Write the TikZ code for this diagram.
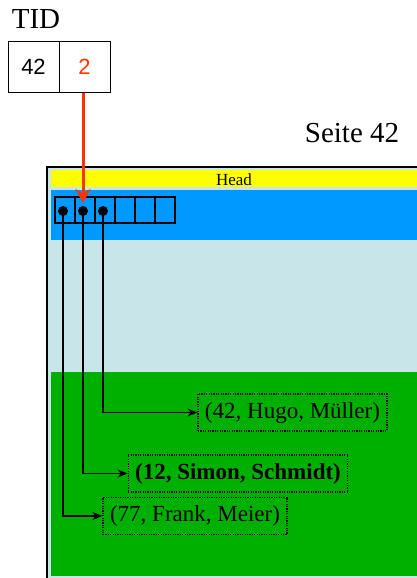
\documentclass[tikz,border=0pt]{standalone}
\usepackage{fontspec}
\setmainfont{Liberation Serif}
\newfontfamily\numfont{Liberation Sans}
\usetikzlibrary{arrows.meta}
\definecolor{pgLight}{RGB}{200,230,234}
\definecolor{pgBlue}{RGB}{0,153,255}
\definecolor{pgGreen}{RGB}{0,176,0}
\definecolor{pgYellow}{RGB}{255,255,0}
\definecolor{pgRed}{RGB}{255,51,0}
\tikzset{
  tidcell/.style={draw=black, line width=1pt, minimum width=51pt, minimum height=50pt, inner sep=0pt, font=\numfont\fontsize{22}{24}\selectfont},
  slotcell/.style={draw=black, line width=1.2pt, minimum width=20pt, minimum height=26pt, inner sep=0pt},
  slotdot/.style={circle, fill=black, minimum size=10pt, inner sep=0pt},
  tuplebox/.style={draw=black, dash pattern=on 1.2pt off 1.2pt, line width=1.2pt, minimum height=37pt, inner xsep=7pt, inner ysep=0pt, font=\fontsize{23}{25}\selectfont},
  ptr/.style={draw=black, line width=1.4pt, -{Stealth[length=10pt,width=8pt]}},
  bigtext/.style={font=\fontsize{29}{31}\selectfont, inner sep=0pt}
}
\begin{document}
\begin{tikzpicture}[x=1pt,y=-1pt]
\useasboundingbox (0,0) rectangle (417,578);
\begin{scope}
\clip (0,0) rectangle (417,578);
% page
\fill[pgLight] (47,167) rectangle (430,600);
\draw[black, line width=1.5pt] (47,600) -- (47,167) -- (430,167);
\fill[pgYellow] (51,170) rectangle (430,187);
\fill[pgBlue] (51,190) rectangle (430,240);
\fill[pgGreen] (51,372) rectangle (430,576);
\end{scope}
\node[font=\fontsize{17}{18}\selectfont, inner sep=0pt] (head) at (234,180) {Head};
\node[bigtext] (seite) at (352,133) {Seite 42};
\node[bigtext] (tid) at (36,19) {TID};
% TID
\node[tidcell] (tid1) at (33.5,67) {42};
\node[tidcell, text=pgRed] (tid2) at (84.5,67) {2};
% slots
\foreach \i/\x in {1/65,2/85,3/105,4/125,5/145,6/165}
  \node[slotcell] (c\i) at (\x,210) {};
\node[slotdot] (d1) at (63,211) {};
\node[slotdot] (d2) at (83,211) {};
\node[slotdot] (d3) at (103,211) {};
% tuples
\node[tuplebox] (t1) at (292.5,412.5) {(42, Hugo, Müller)};
\node[tuplebox, font=\fontsize{23}{25}\selectfont\bfseries] (t2) at (238,473.5) {(12, Simon, Schmidt)};
\node[tuplebox] (t3) at (195,516) {(77, Frank, Meier)};
% pointers
\draw[ptr] (d3.center) |- (t1.west);
\draw[ptr] (d2.center) |- (t2.west);
\draw[ptr] (d1.center) |- (t3.west);
% red arrow
\coordinate (tip) at (83,203);
\draw[pgRed, line width=3pt, -{Stealth[length=14pt,width=15pt]}] (tid2.south -| tip) -- (tip);
\end{tikzpicture}
\end{document}
